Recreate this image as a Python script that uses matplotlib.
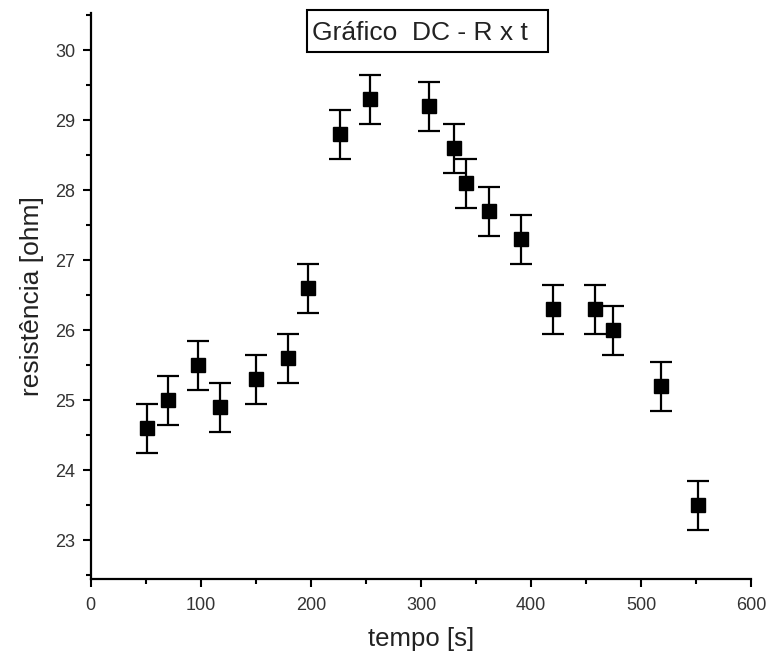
import matplotlib
matplotlib.use("Agg")
import matplotlib.pyplot as plt
from matplotlib.patches import Rectangle

# tempo [s] vs resistência [ohm]
tempo = [51, 70, 97, 117, 150, 179, 197, 226, 254, 307, 330, 341, 362, 391, 420, 458, 474, 518, 552]
resistencia = [24.6, 25.0, 25.5, 24.9, 25.3, 25.6, 26.6, 28.8, 29.3, 29.2, 28.6, 28.1, 27.7, 27.3, 26.3, 26.3, 26.0, 25.2, 23.5]
erro = [0.35] * len(tempo)

x_ticks = [0, 100, 200, 300, 400, 500, 600]
y_ticks = [23, 24, 25, 26, 27, 28, 29, 30]

plt.rcParams["font.family"] = ["Liberation Sans", "DejaVu Sans"]

fig = plt.figure(figsize=(7.69, 6.62), dpi=100)
ax = fig.add_axes([0.118, 0.1254, 0.859, 0.855])

ax.errorbar(tempo, resistencia, yerr=erro, fmt="s", color="black",
            markersize=10, elinewidth=1.6, capsize=8, capthick=1.6)

ax.set_xlim(0, 600)
ax.set_ylim(22.45, 30.53)
ax.set_xticks(x_ticks)
ax.set_yticks(y_ticks)
ax.set_xticks([50, 150, 250, 350, 450, 550], minor=True)
ax.set_yticks([22.5, 23.5, 24.5, 25.5, 26.5, 27.5, 28.5, 29.5, 30.5], minor=True)

for side in ("top", "right"):
    ax.spines[side].set_visible(False)
for side in ("left", "bottom"):
    ax.spines[side].set_linewidth(1.6)

ax.tick_params(which="major", direction="out", length=6, width=1.5, labelsize=13, colors="black")
ax.tick_params(axis="x", which="major", pad=7)
ax.tick_params(axis="y", which="major", pad=5)
ax.tick_params(which="minor", direction="out", length=3.5, width=1.5)
for lbl in ax.get_xticklabels() + ax.get_yticklabels():
    lbl.set_color("#333333")

ax.set_xlabel("tempo [s]", fontsize=18.5, color="#222222", labelpad=9)
ax.set_ylabel("resistência [ohm]", fontsize=19, color="#222222", labelpad=8)

# title box in the top of the plot
fig.text(312 / 769, 1 - 33 / 662, "Gráfico  DC - R x t", ha="left", va="center",
         fontsize=19, color="#222222")
fig.patches.append(Rectangle((307 / 769, 1 - 52 / 662), 241 / 769, 42 / 662,
                             transform=fig.transFigure, facecolor="none",
                             edgecolor="black", linewidth=1.5))

fig.savefig("out.png", dpi=100)
